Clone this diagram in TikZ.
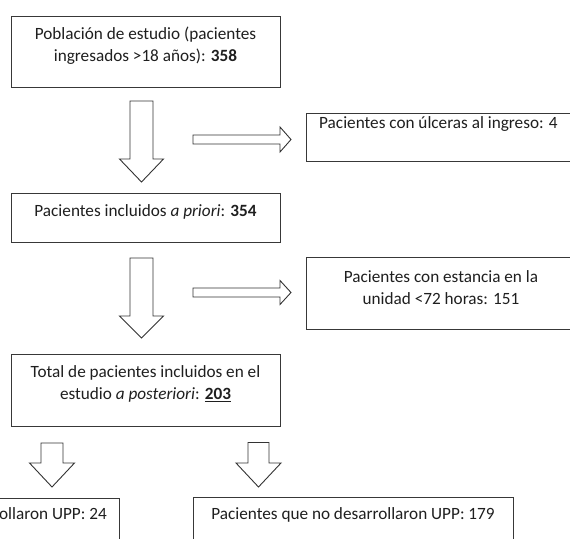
\documentclass[tikz,border=0pt]{standalone}
\usepackage{fontspec}
\setmainfont{Carlito}
\begin{document}
\begin{tikzpicture}[x=1pt,y=-1pt,
  box/.style={draw=black!78,line width=1.1pt,rectangle,inner sep=0pt,anchor=north west},
  txt/.style={text=black!88,align=center,inner sep=0pt,font=\fontsize{17.2}{22}\selectfont},
  arrowline/.style={draw=black!80,line width=0.9pt,fill=white,line join=miter},
  pics/blkdown/.style n args={4}{code={
    \draw[arrowline] (-#1,0) -- (#1,0) -- (#1,#3-#4) -- (#2,#3-#4) -- (0,#3)
      -- (-#2,#3-#4) -- (-#1,#3-#4) -- cycle;}},
  pics/blkright/.style n args={4}{code={
    \draw[arrowline] (0,-#1) -- (#3-#4,-#1) -- (#3-#4,-#2) -- (#3,0)
      -- (#3-#4,#2) -- (#3-#4,#1) -- (0,#1) -- cycle;}}
]
\useasboundingbox[fill=white] (0,0) rectangle (570,538);
\clip (0,0) rectangle (570,538);

% boxes
\node[box,minimum width=269pt,minimum height=71pt] (b1) at (11,16) {};
\node[box,minimum width=275pt,minimum height=48pt] (b2) at (306,113) {};
\node[box,minimum width=269pt,minimum height=49pt] (b3) at (11,193) {};
\node[box,minimum width=275pt,minimum height=72pt] (b4) at (306,257) {};
\node[box,minimum width=269pt,minimum height=72pt] (b5) at (11,354) {};
\node[box,minimum width=320pt,minimum height=70pt] (b6) at (-201,498) {};
\node[box,minimum width=320pt,minimum height=70pt] (b7) at (193,497) {};

% texts
\node[txt] (t1) at (145.5,46) {Población de estudio (pacientes\\ingresados >18 años): \textbf{358}};
\node[txt,anchor=west] (t2) at (319,124) {Pacientes con úlceras al ingreso: 4};
\node[txt] (t3) at (145.5,212) {Pacientes incluidos \textit{a priori}: \textbf{354}};
\node[txt] (t4) at (441,288) {Pacientes con estancia en la\\unidad <72 horas: 151};
\node[txt] (t5) at (145.5,384) {Total de pacientes incluidos en el\\estudio \textit{a posteriori}: \underline{\textbf{203}}};
\node[txt,anchor=east] (t6) at (107,515) {Pacientes que desarrollaron UPP: 24};
\node[txt] (t7) at (353,515) {Pacientes que no desarrollaron UPP: 179};

% block arrows
\pic at (141.5,101) {blkdown={11.5}{22}{81}{23}};
\pic at (141.5,258) {blkdown={11.5}{22}{80}{22}};
\pic at (193,139.5) {blkright={4.5}{12.5}{98}{11}};
\pic at (193,292.5) {blkright={4.5}{12}{98}{11}};
\pic at (52,443) {blkdown={11}{22.5}{44}{24}};
\pic at (258.5,442.5) {blkdown={10.5}{22.5}{44.5}{24}};
\end{tikzpicture}
\end{document}
